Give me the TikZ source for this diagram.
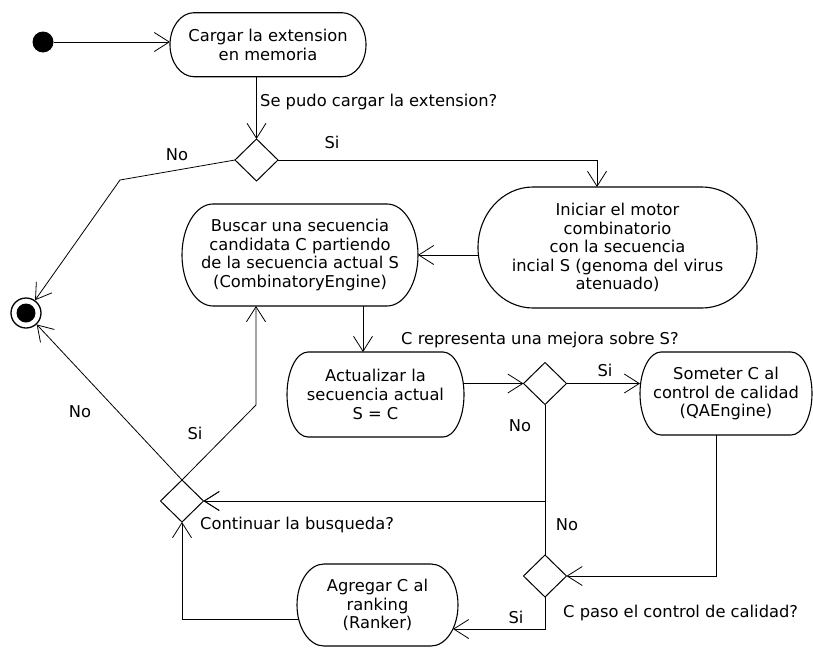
\documentclass[tikz,border=0pt]{standalone}
\usepackage{fontspec}
\setmainfont{DejaVu Sans}
\usetikzlibrary{arrows.meta,shapes.geometric}
% outline of an activity box: straight top and bottom, half-ellipse ends
% #1 node name, #2 horizontal radius of the ends, #3 half of the box height
\newcommand\actoutline[3]{%
  \draw[actline] ([xshift=#2]#1.north west) -- ([xshift=-#2]#1.north east)
    arc[start angle=90, end angle=-90, x radius=#2, y radius=#3]
    -- ([xshift=#2]#1.south west)
    arc[start angle=270, end angle=90, x radius=#2, y radius=#3] -- cycle;}
\begin{document}
\begin{tikzpicture}[x=1pt,y=-1pt,
  font=\fontsize{16.3}{18.6}\selectfont,
  act/.style={align=center, inner sep=0pt, outer sep=0pt},
  actline/.style={line width=1.1pt},
  dec/.style={draw, diamond, line width=1pt, inner sep=0pt, outer sep=0pt, minimum width=43pt, minimum height=42pt},
  startdot/.style={circle, fill=black, inner sep=0pt, minimum size=21pt},
  endring/.style={circle, draw, line width=1.3pt, inner sep=0pt, minimum size=30pt},
  enddot/.style={circle, fill=black, inner sep=0pt, minimum size=19pt},
  arr/.style={draw, line width=0.8pt, -{Straight Barb[length=15pt,width=19pt,line width=0.8pt]}},
  lbl/.style={inner sep=0pt}
]
\useasboundingbox[fill=white] (0,0) rectangle (813,648);

% activities
\node[startdot] (ini) at (43,42) {};
\node[act, minimum width=196pt, minimum height=64pt] (load) at (268,44.7)
  {Cargar la extension\\en memoria};
\actoutline{load}{24pt}{32pt}
\node[dec] (d1) at (256.5,160) {};
\node[act, minimum width=279pt, minimum height=121pt] (init) at (617.5,247.5)
  {Iniciar el motor\\combinatorio\\con la secuencia\\incial S (genoma del virus\\atenuado)};
\actoutline{init}{55pt}{60.5pt}
\node[act, minimum width=236pt, minimum height=102pt] (search) at (300,255)
  {Buscar una secuencia\\candidata C partiendo\\de la secuencia actual S\\(CombinatoryEngine)};
\actoutline{search}{31pt}{51pt}
\node[act, minimum width=177pt, minimum height=85pt] (update) at (375.5,394.5)
  {Actualizar la\\secuencia actual\\S = C};
\actoutline{update}{21pt}{42.5pt}
\node[dec] (d2) at (545,383.5) {};
\node[act, minimum width=172pt, minimum height=83pt] (qa) at (726,393.5)
  {Someter C al\\control de calidad\\(QAEngine)};
\actoutline{qa}{21pt}{41.5pt}
\node[dec] (d3) at (182,501) {};
\node[dec] (d4) at (545,576) {};
\node[act, minimum width=161pt, minimum height=82pt] (rank) at (377.5,605)
  {Agregar C al\\ranking\\(Ranker)};
\actoutline{rank}{27pt}{41pt}
\node[endring] (fin) at (26,313) {};
\node[enddot] (fincore) at (fin) {};

% bend points and off-centre ports
\coordinate (k1) at (120,180);
\coordinate (k2) at (256,405);
\coordinate (ie) at ([xshift=-20.5pt]init.north);
\coordinate (ue) at ([xshift=-12.5pt]update.north);
\coordinate (qe) at ([xshift=-10pt]qa.south);
\coordinate (re) at ([xshift=-5pt,yshift=-24pt]rank.east);
\coordinate (rw) at ([xshift=1.6pt,yshift=-14pt]rank.west);

% flows
\draw[arr] (ini) -- (ini -| load.west);
\draw[arr] (d1.north |- load.south) -- (d1.north);
\draw[arr] (d1.east) -| (ie);
\draw[arr] (d1.west) -- (k1) -- (fin);
\draw[arr] (search.east -| init.west) -- (search.east);
\draw[arr] (search.south -| ue) -- (ue);
\draw[arr] (d2.west -| update.east) -- (d2.west);
\draw[arr] (d2.east) -- (d2.east -| qa.west);
\draw[arr] (d2.south) |- (d3.east);
\draw[arr] (qe) |- (d4.east);
\draw[arr] (d4.north) |- (d3.east);
\draw[arr] (d4.south) |- (re);
\draw[arr] (rw) -| (d3.south);
\draw[arr] (d3.north) -- (k2) -- (k2 |- search.south);
\draw[arr] (d3.north) -- (fin);

% guards and questions
\node[lbl, anchor=west] at (260,102) {Se pudo cargar la extension?};
\node[lbl] at (332,142) {Si};
\node[lbl] at (177,155) {No};
\node[lbl, anchor=west] at (401,340) {C representa una mejora sobre S?};
\node[lbl] at (605,370) {Si};
\node[lbl] at (520,426) {No};
\node[lbl] at (567,525) {No};
\node[lbl] at (516,617) {Si};
\node[lbl, anchor=west] at (563,613) {C paso el control de calidad?};
\node[lbl, anchor=west] at (200,525) {Continuar la busqueda?};
\node[lbl] at (80,412) {No};
\node[lbl] at (195,433) {Si};
\end{tikzpicture}
\end{document}
